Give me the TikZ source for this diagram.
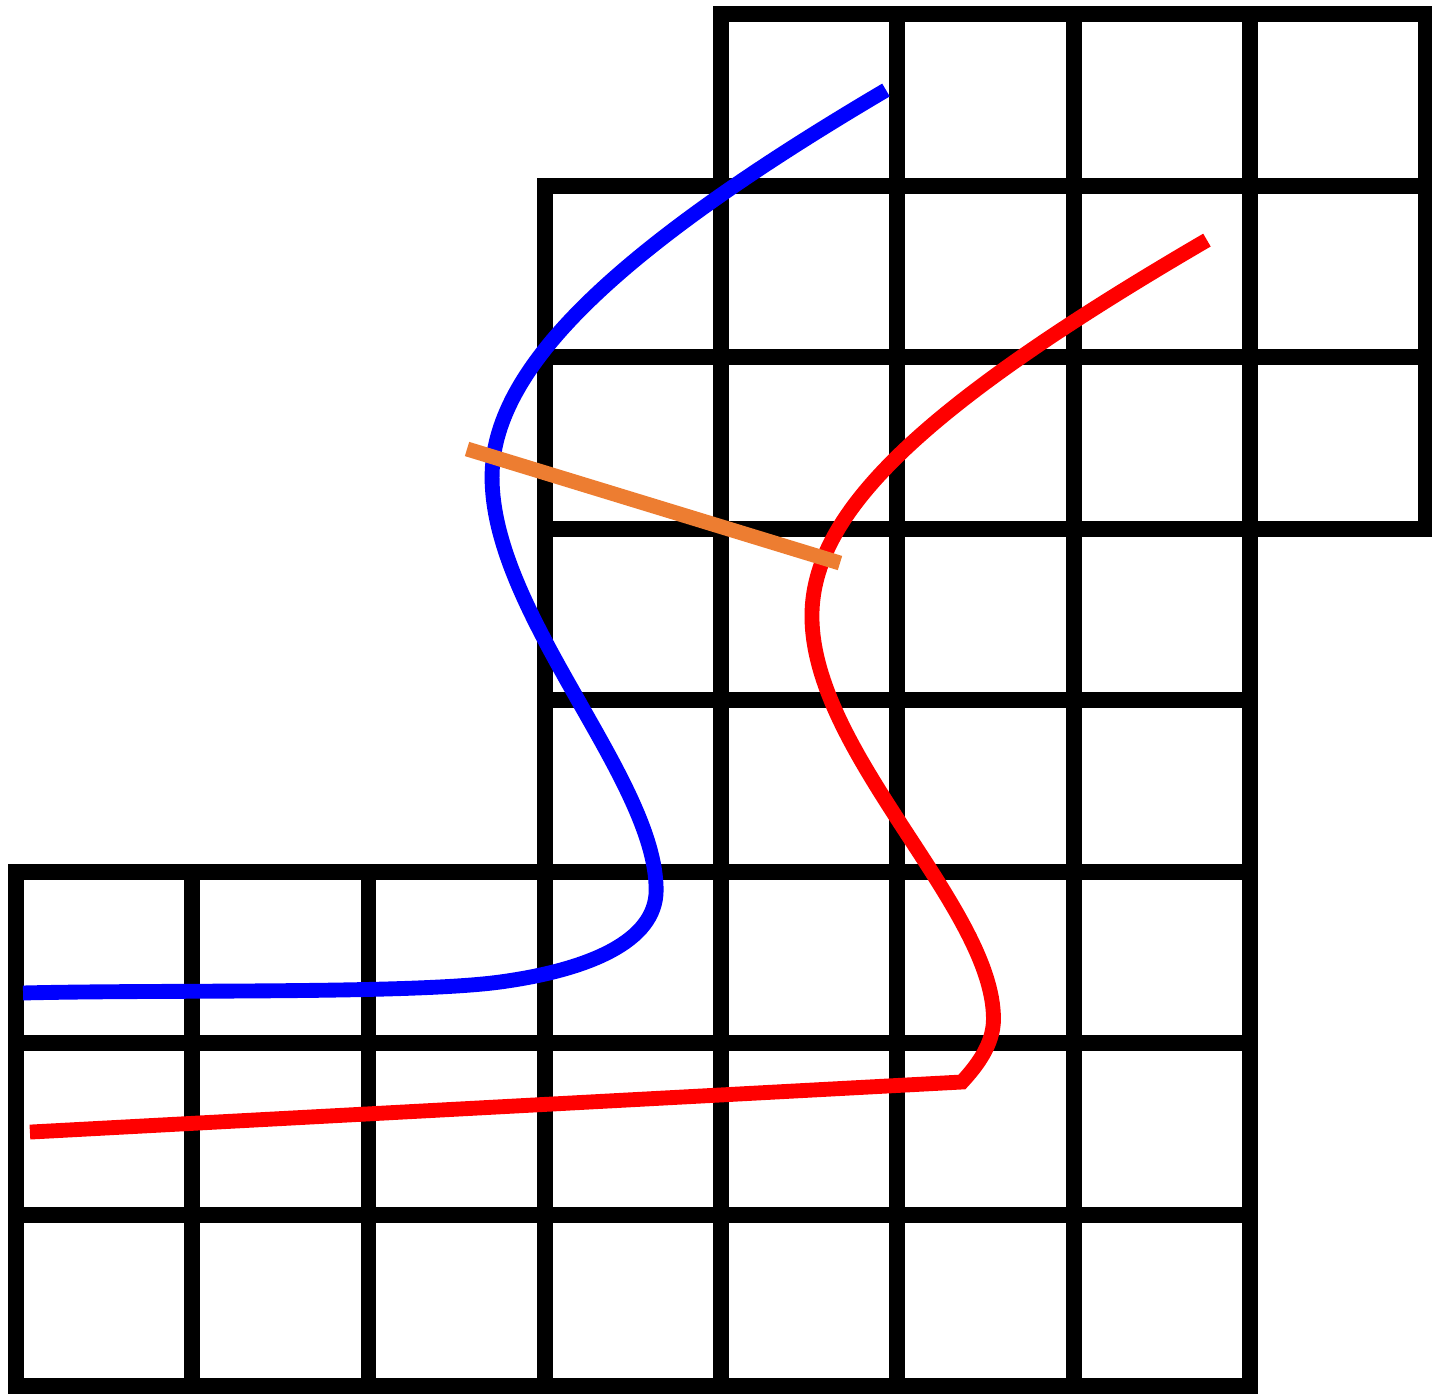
\documentclass[tikz,border=0pt]{standalone}
\usepackage{tikz}

\definecolor{cutorange}{RGB}{237,125,49}

\begin{document}
\begin{tikzpicture}[
        x=1cm, y=0.97305cm,
        gridline/.style={line width=2.58pt, draw=black, line cap=rect},
        bluepath/.style={line width=2.4pt, draw=blue},
        redpath/.style={line width=2.4pt, draw=red},
        cutline/.style={line width=2.4pt, draw=cutorange}
    ]

        % --- Frame ---
        \useasboundingbox (-0.0908,-0.0408) rectangle (8.034,8.082);

        % --- Staircase grid ---
        \draw [gridline, step={(1,1)}] (0,0) grid (7,3);
        \draw [gridline, step={(1,1)}] (3,3) grid (7,5);
        \draw [gridline, step={(1,1)}] (3,5) grid (8,7);
        \draw [gridline, step={(1,1)}] (4,7) grid (8,8);

        % --- Blue curve ---
        \draw [bluepath] (4.936,7.557)
            .. controls (3.346,6.594) and (2.701,5.912) .. (2.701,5.300)
            .. controls (2.701,4.500) and (3.632,3.542) .. (3.632,2.892)
            .. controls (3.632,2.592) and (3.246,2.426) .. (2.746,2.356)
            .. controls (2.246,2.286) and (0.840,2.312) .. (0.040,2.292);

        % --- Red curve ---
        \draw [redpath] (6.757,6.682)
            .. controls (5.161,5.726) and (4.516,5.102) .. (4.516,4.490)
            .. controls (4.516,3.690) and (5.546,2.790) .. (5.546,2.140)
            .. controls (5.546,1.990) and (5.447,1.862) .. (5.367,1.773)
            -- (0.079,1.481);

        % --- Cut ---
        \coordinate (cutL) at (2.559,5.464);
        \coordinate (cutR) at (4.675,4.799);
        \draw [cutline] (cutL) -- (cutR);

    \end{tikzpicture}
\end{document}
